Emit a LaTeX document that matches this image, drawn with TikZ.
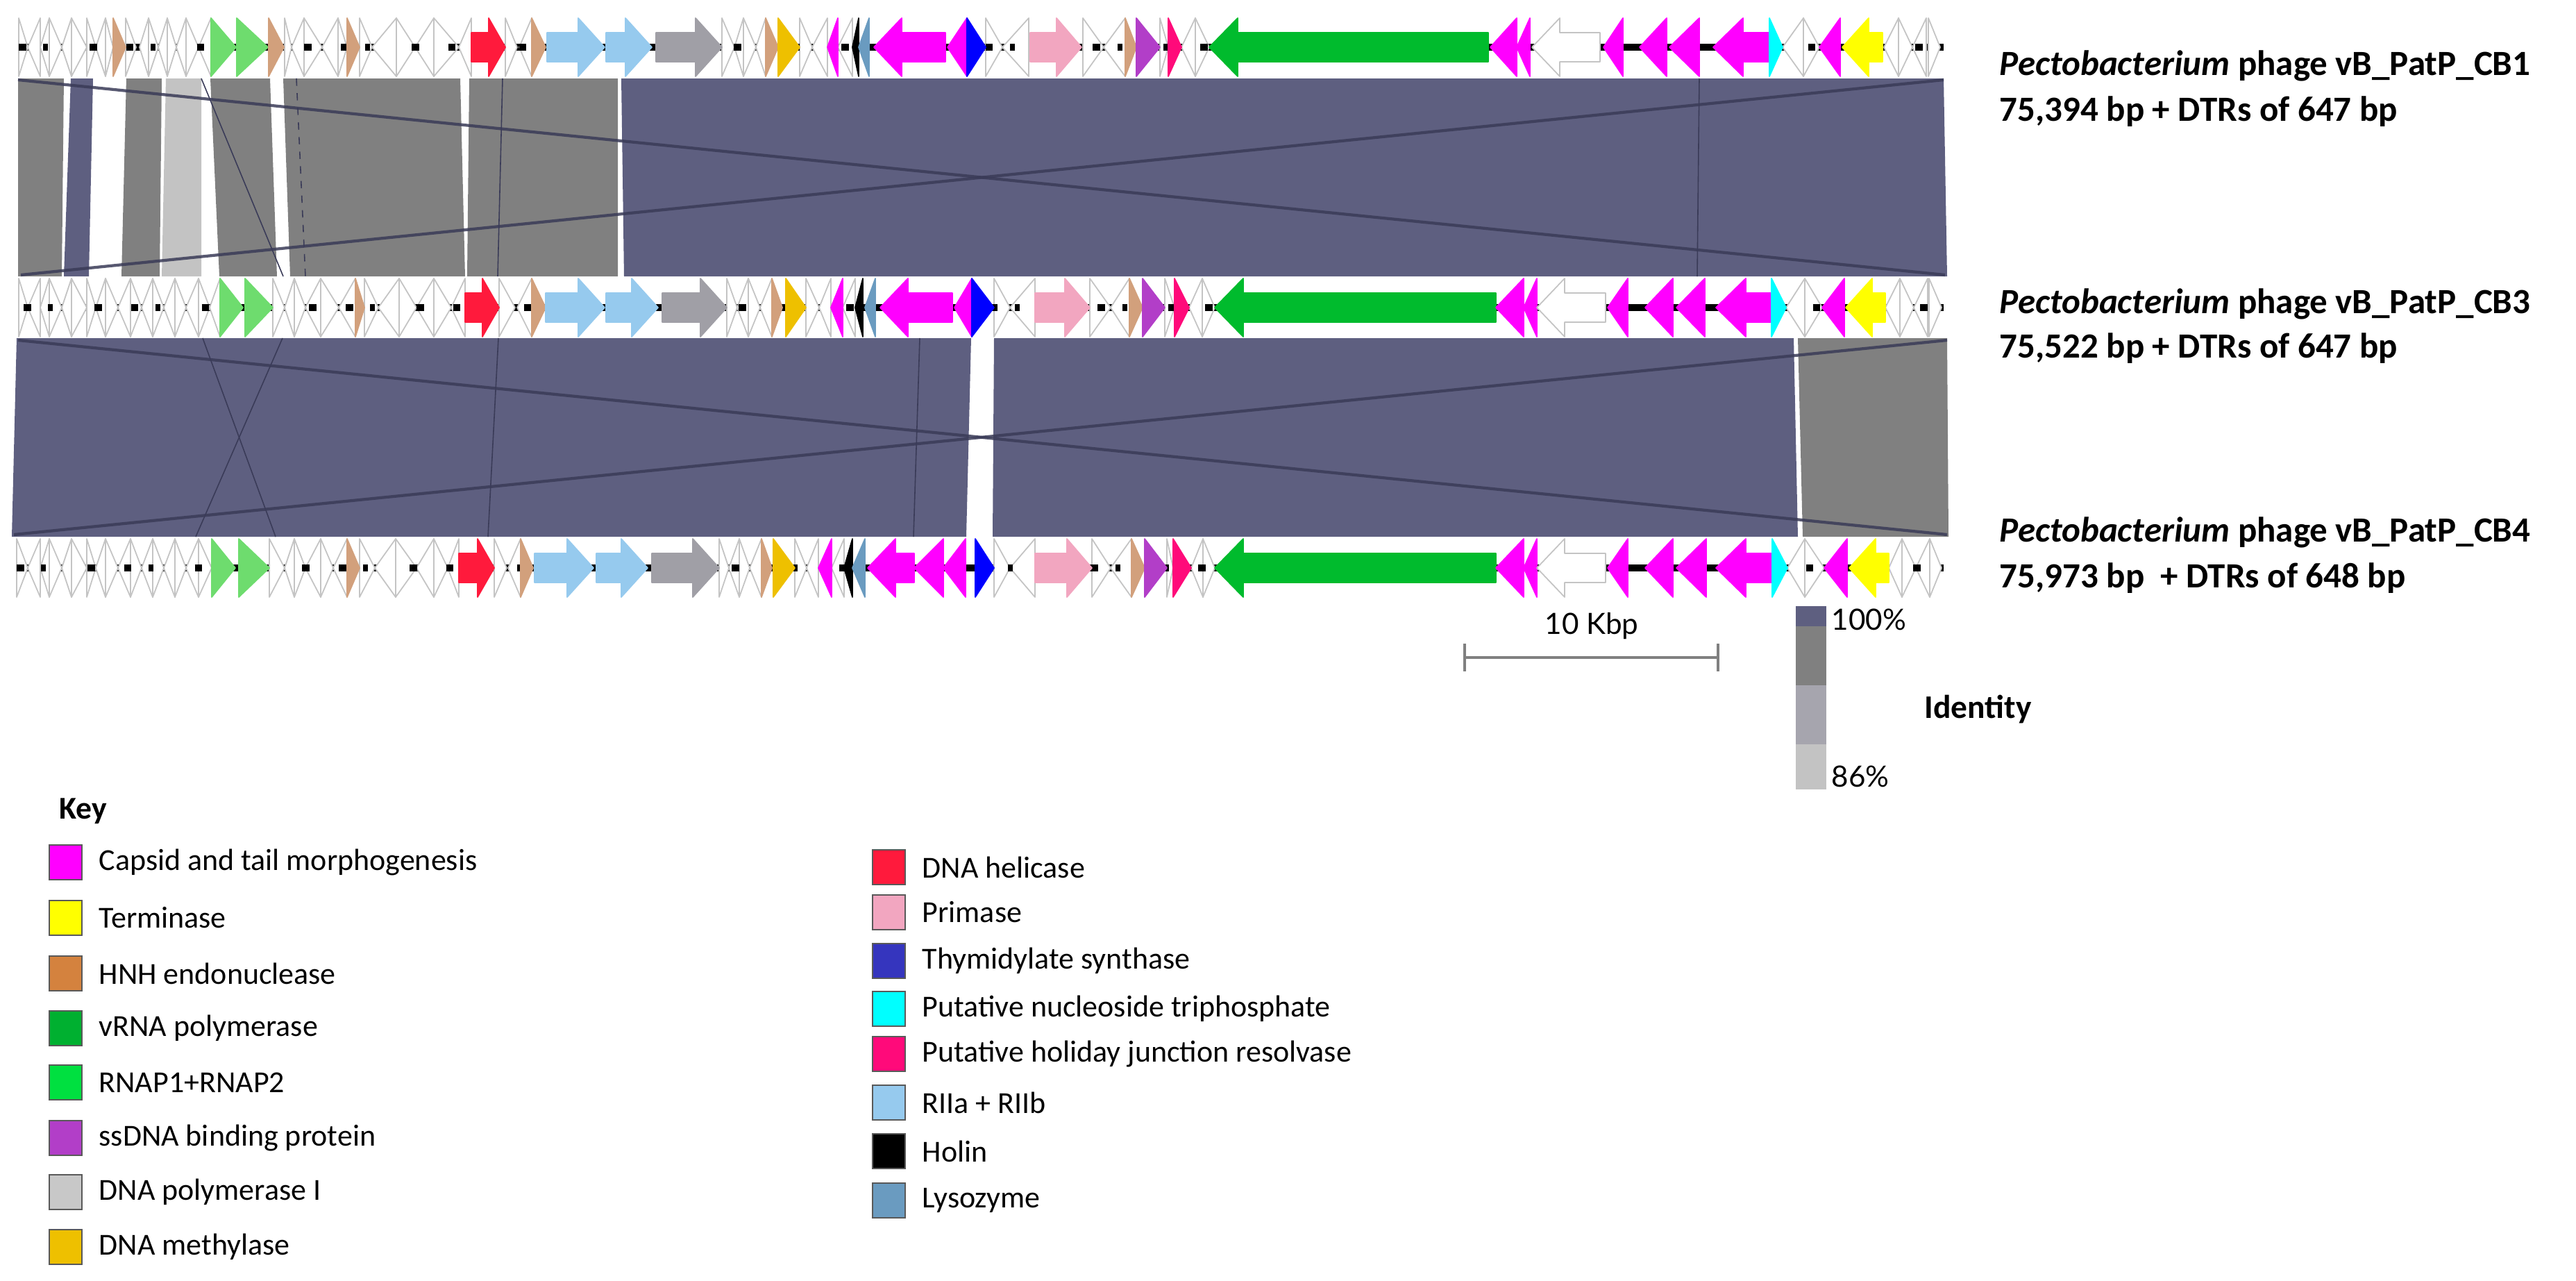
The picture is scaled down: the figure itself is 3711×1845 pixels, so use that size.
\documentclass[tikz,border=0pt]{standalone}
\usepackage{fontspec}
\setmainfont{Carlito}
\newfontfamily\latof{Lato}
\definecolor{slateb}{HTML}{5E5F80}
\definecolor{grayb}{HTML}{808080}
\definecolor{lgrayb}{HTML}{C3C3C3}
\definecolor{idlav}{HTML}{A6A5AE}
\definecolor{lineb}{HTML}{3A3B58}
\definecolor{wline}{HTML}{C4C4C4}
\definecolor{cmag}{HTML}{FF00FF}
\definecolor{cyel}{HTML}{FFFF00}
\definecolor{ctan}{HTML}{D2A07C}
\definecolor{chnh}{HTML}{D4823E}
\definecolor{cvrna}{HTML}{00BB2D}
\definecolor{cvrnak}{HTML}{00B030}
\definecolor{crnap}{HTML}{6EDC6E}
\definecolor{crnapk}{HTML}{00E040}
\definecolor{cssdna}{HTML}{B23EC8}
\definecolor{cpolt}{HTML}{A09FA6}
\definecolor{cpolk}{HTML}{C8C8C8}
\definecolor{cmeth}{HTML}{EEC000}
\definecolor{chel}{HTML}{FF1A3C}
\definecolor{cprim}{HTML}{F2A6C0}
\definecolor{cthyt}{HTML}{0000FF}
\definecolor{cthyk}{HTML}{3535BE}
\definecolor{ccyan}{HTML}{00FFFF}
\definecolor{chol}{HTML}{FF0A7A}
\definecolor{crii}{HTML}{96CAEE}
\definecolor{clys}{HTML}{6A9BC0}
\newcommand\GA[7]{%
  \pgfmathsetmacro\gL{#3-#2}%
  \pgfmathsetmacro\gH{min(\gL,#5)}%
  \ifnum#4>0\relax
    \pgfmathsetmacro\gB{#3-\gH}%
    \filldraw[fill=#6,draw=#7,line width=0.5pt,line join=round] (#2,#1-21) -- (\gB,#1-21) -- (\gB,#1-42) -- (#3,#1) -- (\gB,#1+42) -- (\gB,#1+21) -- (#2,#1+21) -- cycle;
  \else
    \pgfmathsetmacro\gB{#2+\gH}%
    \filldraw[fill=#6,draw=#7,line width=0.5pt,line join=round] (#3,#1-21) -- (\gB,#1-21) -- (\gB,#1-42) -- (#2,#1) -- (\gB,#1+42) -- (\gB,#1+21) -- (#3,#1+21) -- cycle;
  \fi}
\tikzset{
  thinl/.style={draw=lineb,line width=0.45pt},
  diagl/.style={draw=lineb,line width=1.2pt,opacity=0.85},
  backbone/.style={draw=black,line width=2.8pt},
  bbdash/.style={draw=black,line width=2.8pt,dash pattern=on 3pt off 7pt on 2pt off 17pt on 3pt off 12pt},
  lab/.style={anchor=west,inner sep=0pt,font=\fontsize{14.5}{17}\selectfont\bfseries},
  keytxt/.style={anchor=west,inner sep=0pt,font=\fontsize{12.5}{15}\selectfont},
  keysq/.style={draw=black!65,line width=0.7pt}
}
\begin{document}
\begin{tikzpicture}[x=0.01cm,y=-0.01cm]
\useasboundingbox (0,0) rectangle (3711,1845);
\fill[white] (0,0) rectangle (3711,1845);

% ---------- band 1 (CB1 - CB3)
\fill[grayb] (26,113) -- (92,113) -- (89,398) -- (26,398) -- cycle;
\fill[slateb] (102,113) -- (134,113) -- (128,398) -- (92,398) -- cycle;
\fill[grayb] (182,113) -- (233,113) -- (230,398) -- (175,398) -- cycle;
\fill[lgrayb] (239,113) -- (290,113) -- (290,398) -- (233,398) -- cycle;
\fill[grayb] (303,113) -- (389,113) -- (399,398) -- (316,398) -- cycle;
\fill[grayb] (408,113) -- (663,113) -- (670,398) -- (418,398) -- cycle;
\fill[grayb] (676,113) -- (890,113) -- (890,398) -- (673,398) -- cycle;
\fill[slateb] (895,113) -- (2800,113) -- (2805,398) -- (899,398) -- cycle;
\draw[thinl] (290,113) -- (408,398);
\draw[thinl,dashed] (427,113) -- (440,398);
\draw[thinl] (724,113) -- (717,398);
\draw[thinl] (2448,113) -- (2445,398);
\draw[diagl] (26,115) -- (2802,396);
\draw[diagl] (30,396) -- (2800,115);

% ---------- band 2 (CB3 - CB4)
\fill[slateb] (24,487) -- (1399,487) -- (1392,773) -- (17,773) -- cycle;
\fill[slateb] (1432,487) -- (2584,487) -- (2590,773) -- (1430,773) -- cycle;
\fill[grayb] (2590,487) -- (2805,487) -- (2807,773) -- (2597,773) -- cycle;
\draw[thinl] (292,487) -- (397,773);
\draw[thinl] (407,487) -- (282,773);
\draw[thinl] (718,487) -- (703,773);
\draw[thinl] (1325,487) -- (1316,773);
\draw[diagl] (26,490) -- (2805,770);
\draw[diagl] (20,770) -- (2805,490);

% ---------- track 1 (CB1)
\draw[backbone] (27,68) -- (2800,68);
\foreach \a/\b/\c in {27/40/1,40/58/-1,58/71/-1,71/89/1,89/103/-1,103/125/1,125/138/1,138/152/-1,152/163/1,
 181/196/1,201/214/-1,214/228/1,228/241/-1,241/254/1,254/268/-1,268/286/1,286/304/-1,
 410/420/1,420/438/-1,438/464/1,464/487/-1,487/500/1,
 518/536/1,536/571/-1,571/598/1,598/625/-1,625/661/1,661/679/-1,
 728/745/1,748/766/-1,1040/1058/1,1058/1071/-1,1071/1089/1,1089/1103/-1,
 1152/1170/1,1170/1192/-1,1207/1228/-1,
 1420/1444/1,1444/1482/-1,1560/1590/1,1590/1621/-1,1671/1683/1,1702/1722/-1,1722/1742/1,
 2568/2598/-1,2598/2621/1,2714/2735/-1,2735/2755/1,2755/2775/-1,2778/2795/1}
 {\GA{68}{\a}{\b}{\c}{999}{white}{wline}}
\draw[bbdash] (27,68) -- (2800,68);
\foreach \a/\b/\c/\h/\s in {163/181/1/999/ctan,304/340/1/999/crnap,341/386/1/999/crnap,387/409/1/999/ctan,
 500/518/1/999/ctan,679/728/1/24/chel,766/786/1/999/ctan,788/871/1/38/crii,873/939/1/38/crii,
 945/1040/1/38/cpolt,1103/1121/1/999/ctan,1121/1152/1/999/cmeth,1192/1207/-1/999/cmag,
 1228/1237/-1/999/black,1237/1252/-1/999/clys,1259/1362/-1/40/cmag,1365/1393/-1/999/cmag,
 1393/1420/1/999/cthyt,1484/1558/1/36/cprim,1621/1637/1/999/ctan,1637/1671/1/999/cssdna,
 1683/1702/1/999/chol,1742/2144/-1/41/cvrna,2147/2185/-1/999/cmag,2185/2204/-1/999/cmag,
 2310/2338/-1/999/cmag,2362/2401/-1/999/cmag,2405/2448/-1/999/cmag,2468/2549/-1/43/cmag,
 2549/2568/1/999/ccyan,2621/2651/-1/999/cmag,2654/2712/-1/38/cyel}
 {\GA{68}{\a}{\b}{\c}{\h}{\s}{\s}}
\GA{68}{2207}{2305}{-1}{40}{white}{wline}

% ---------- track 2 (CB3)
\draw[backbone] (27,443) -- (2800,443);
\foreach \a/\b/\c in {27/40/1,40/58/-1,58/71/-1,71/89/1,89/103/-1,103/125/1,125/138/1,138/152/-1,
 152/170/1,170/188/-1,188/204/1,204/220/-1,220/236/1,236/252/-1,252/268/1,268/286/-1,286/302/1,302/317/-1,
 393/410/1,410/424/-1,424/440/1,440/462/-1,462/488/1,488/512/-1,
 525/545/1,545/575/-1,575/600/1,600/625/-1,625/650/1,650/670/-1,
 719/742/1,745/766/-1,1047/1062/1,1062/1078/-1,1078/1095/1,1095/1112/-1,
 1161/1180/1,1180/1197/-1,1214/1232/-1,
 1432/1455/1,1455/1491/-1,1570/1600/1,1600/1627/-1,1678/1692/1,1713/1732/-1,1732/1750/1,
 2573/2600/-1,2600/2625/1,2716/2737/-1,2737/2757/1,2757/2777/-1,2779/2797/1}
 {\GA{443}{\a}{\b}{\c}{999}{white}{wline}}
\draw[bbdash] (34,443) -- (2800,443);
\foreach \a/\b/\c/\h/\s in {317/350/1/999/crnap,353/393/1/999/crnap,
 512/525/1/999/ctan,670/719/1/24/chel,766/786/1/999/ctan,786/871/1/38/crii,873/948/1/38/crii,
 954/1047/1/38/cpolt,1112/1127/1/999/ctan,1132/1161/1/999/cmeth,1197/1214/-1/999/cmag,
 1232/1243/-1/999/black,1246/1261/-1/999/clys,1268/1372/-1/40/cmag,1375/1400/-1/999/cmag,
 1400/1432/1/999/cthyt,1491/1570/1/36/cprim,1627/1646/1/999/ctan,1646/1678/1/999/cssdna,
 1692/1713/1/999/chol,1750/2155/-1/41/cvrna,2155/2195/-1/999/cmag,2195/2214/-1/999/cmag,
 2316/2345/-1/999/cmag,2370/2410/-1/999/cmag,2415/2456/-1/999/cmag,2472/2552/-1/43/cmag,
 2552/2573/1/999/ccyan,2625/2657/-1/999/cmag,2659/2716/-1/38/cyel}
 {\GA{443}{\a}{\b}{\c}{\h}{\s}{\s}}
\GA{443}{2214}{2313}{-1}{40}{white}{wline}

% ---------- track 3 (CB4)
\draw[backbone] (24,818) -- (2800,818);
\foreach \a/\b/\c in {24/40/1,40/58/-1,58/71/-1,71/89/1,89/103/-1,103/125/1,125/138/1,138/152/-1,
 152/170/1,170/188/-1,188/204/1,204/220/-1,220/236/1,236/252/-1,252/268/1,268/286/-1,286/305/1,
 388/410/1,410/424/-1,424/440/1,440/462/-1,462/480/1,480/500/-1,
 518/540/1,540/570/-1,570/600/1,600/625/-1,625/645/1,645/661/-1,
 712/730/1,732/750/-1,1036/1050/1,1050/1065/-1,1065/1080/1,1080/1097/-1,
 1145/1162/1,1162/1179/-1,1198/1216/-1,
 1432/1455/1,1455/1491/-1,1573/1600/1,1600/1630/-1,1681/1690/1,1716/1733/-1,1733/1750/1,
 2575/2600/-1,2600/2628/1,2721/2740/-1,2740/2760/1,2760/2780/-1,2780/2797/1}
 {\GA{818}{\a}{\b}{\c}{999}{white}{wline}}
\draw[bbdash] (24,818) -- (2800,818);
\foreach \a/\b/\c/\h/\s in {305/339/1/999/crnap,344/388/1/999/crnap,
 500/518/1/999/ctan,661/712/1/24/chel,750/768/1/999/ctan,770/855/1/38/crii,859/933/1/38/crii,
 939/1036/1/38/cpolt,1097/1112/1/999/ctan,1114/1145/1/999/cmeth,1179/1198/-1/999/cmag,
 1216/1228/-1/999/black,1228/1246/-1/999/clys,1250/1317/-1/40/cmag,1317/1359/-1/999/cmag,
 1359/1391/-1/999/cmag,1405/1432/1/999/cthyt,1491/1573/1/36/cprim,1630/1649/1/999/ctan,
 1649/1681/1/999/cssdna,1690/1716/1/999/chol,1750/2155/-1/41/cvrna,2155/2195/-1/999/cmag,
 2195/2214/-1/999/cmag,2316/2345/-1/999/cmag,2370/2410/-1/999/cmag,2415/2458/-1/999/cmag,
 2472/2553/-1/43/cmag,2553/2575/1/999/ccyan,2628/2661/-1/999/cmag,2664/2721/-1/38/cyel}
 {\GA{818}{\a}{\b}{\c}{\h}{\s}{\s}}
\GA{818}{2214}{2313}{-1}{40}{white}{wline}

% ---------- genome labels
\node[lab] (l1a) at (2880,95) {\textit{Pectobacterium} phage vB\_PatP\_CB1};
\node[lab] (l1b) at (2880,161) {75,394 bp + DTRs of 647 bp};
\node[lab] (l2a) at (2880,438) {\textit{Pectobacterium} phage vB\_PatP\_CB3};
\node[lab] (l2b) at (2880,502) {75,522 bp + DTRs of 647 bp};
\node[lab] (l3a) at (2880,767) {\textit{Pectobacterium} phage vB\_PatP\_CB4};
\node[lab] (l3b) at (2880,833) {75,973 bp~ + DTRs of 648 bp};

% ---------- scale bar
\node[inner sep=0pt,font=\latof\fontsize{12}{14}\selectfont] (kbp) at (2293,902) {10 Kbp};
\draw[grayb,line width=1.1pt] (2110,947) -- (2475,947);
\draw[grayb,line width=1.1pt] (2110,927) -- (2110,967);
\draw[grayb,line width=1.1pt] (2475,927) -- (2475,967);

% ---------- identity bar
\fill[slateb] (2587,873) rectangle (2631,902);
\fill[grayb] (2587,902) rectangle (2631,987);
\fill[idlav] (2587,987) rectangle (2631,1072);
\fill[lgrayb] (2587,1072) rectangle (2631,1137);
\node[anchor=west,inner sep=0pt,font=\latof\fontsize{12}{14}\selectfont] (p100) at (2638,892) {100\%};
\node[anchor=west,inner sep=0pt,font=\latof\fontsize{12}{14}\selectfont] (p86) at (2638,1118) {86\%};
\node[anchor=west,inner sep=0pt,font=\fontsize{13.5}{16}\selectfont\bfseries] (ident) at (2772,1022) {Identity};

% ---------- key
\node[anchor=west,inner sep=0pt,font=\fontsize{13}{15}\selectfont\bfseries] (key) at (85,1168) {Key};
\foreach \yy/\cc/\tt [count=\i] in {1242/cmag/Capsid and tail morphogenesis,1322/cyel/Terminase,
 1402/chnh/HNH endonuclease,1481/cvrnak/vRNA polymerase,1559/crnapk/RNAP1+RNAP2,
 1639/cssdna/ssDNA binding protein,1717/cpolk/DNA polymerase I,1796/cmeth/DNA methylase}
 {\filldraw[keysq,fill=\cc] (71,\yy-25) rectangle (118,\yy+25);
  \node[keytxt] (kl\i) at (142,\yy) {\tt};}
\foreach \yy/\cc/\tt [count=\i] in {1249/chel/DNA helicase,1314/cprim/Primase,
 1384/cthyk/Thymidylate synthase,1453/ccyan/Putative nucleoside triphosphate,
 1518/chol/Putative holiday junction resolvase,1588/crii/RIIa + RIIb,
 1658/black/Holin,1729/clys/Lysozyme}
 {\filldraw[keysq,fill=\cc] (1257,\yy-25) rectangle (1304,\yy+25);
  \node[keytxt] (kr\i) at (1328,\yy) {\tt};}
\end{tikzpicture}
\end{document}
